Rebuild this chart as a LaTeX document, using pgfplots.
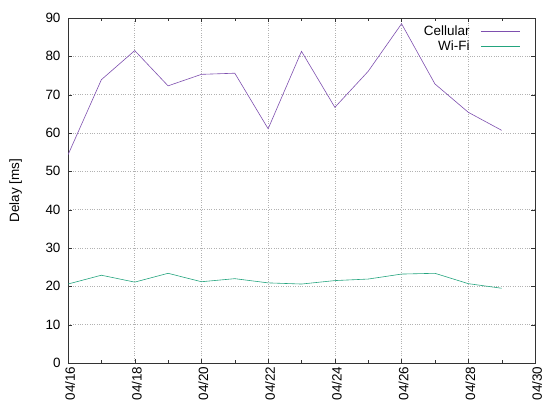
\documentclass[border=0pt]{standalone}
\usepackage{pgfplots}
\pgfplotsset{compat=1.18}
\usepackage{fontspec}
\setmainfont{Liberation Sans}
\definecolor{gpviolet}{HTML}{7E4FAF}
\definecolor{gpgreen}{HTML}{23A47E}
\newcommand{\gpfont}{\fontsize{13.5}{16}\selectfont}
\begin{document}
\begin{tikzpicture}
\useasboundingbox (0,0) rectangle (544bp,409bp);
\begin{axis}[
  at={(68bp,46bp)}, anchor=south west,
  scale only axis, width=467bp, height=345bp,
  xmin=16, xmax=30, ymin=0, ymax=90,
  xtick={16,18,...,30},
  xticklabels={04/16,04/18,04/20,04/22,04/24,04/26,04/28,04/30},
  minor x tick num=1,
  ytick={0,10,...,90},
  /pgf/number format/assume math mode=true,
  tick label style={font=\gpfont},
  label style={font=\gpfont},
  x tick label style={rotate=90, anchor=east, yshift=-2bp},
  y tick label style={xshift=-4bp},
  ylabel={Delay [ms]},
  ylabel style={at={(axis description cs:-0.112,0.5)}, anchor=center},
  grid=major,
  major grid style={dotted, gray!60, line width=0.6pt},
  axis line style={black!80, line width=0.7pt},
  tick style={black!80},
  major tick length=4bp, minor tick length=2.5bp,
  legend style={draw=none, fill=none, at={(0.975,0.99)}, anchor=north east,
    row sep=0bp, column sep=9bp, font=\gpfont},
  legend cell align=right,
  legend plot pos=right,
  legend image code/.code={\draw[#1] (0bp,0bp) -- (39bp,0bp);},
]
\addplot[gpviolet, line width=0.6pt] coordinates {
(16,54.3) (17,73.9) (18,81.5) (19,72.3) (20,75.3) (21,75.6) (22,61.1)
(23,81.3) (24,66.7) (25,76.1) (26,88.5) (27,72.8) (28,65.4) (29,60.7)};
\addlegendentry{Cellular}
\addplot[gpgreen, line width=0.6pt] coordinates {
(16,20.6) (17,22.9) (18,21.1) (19,23.4) (20,21.2) (21,22.0) (22,20.9)
(23,20.6) (24,21.5) (25,21.9) (26,23.2) (27,23.4) (28,20.7) (29,19.5)};
\addlegendentry{Wi-Fi}
\end{axis}
\end{tikzpicture}
\end{document}
